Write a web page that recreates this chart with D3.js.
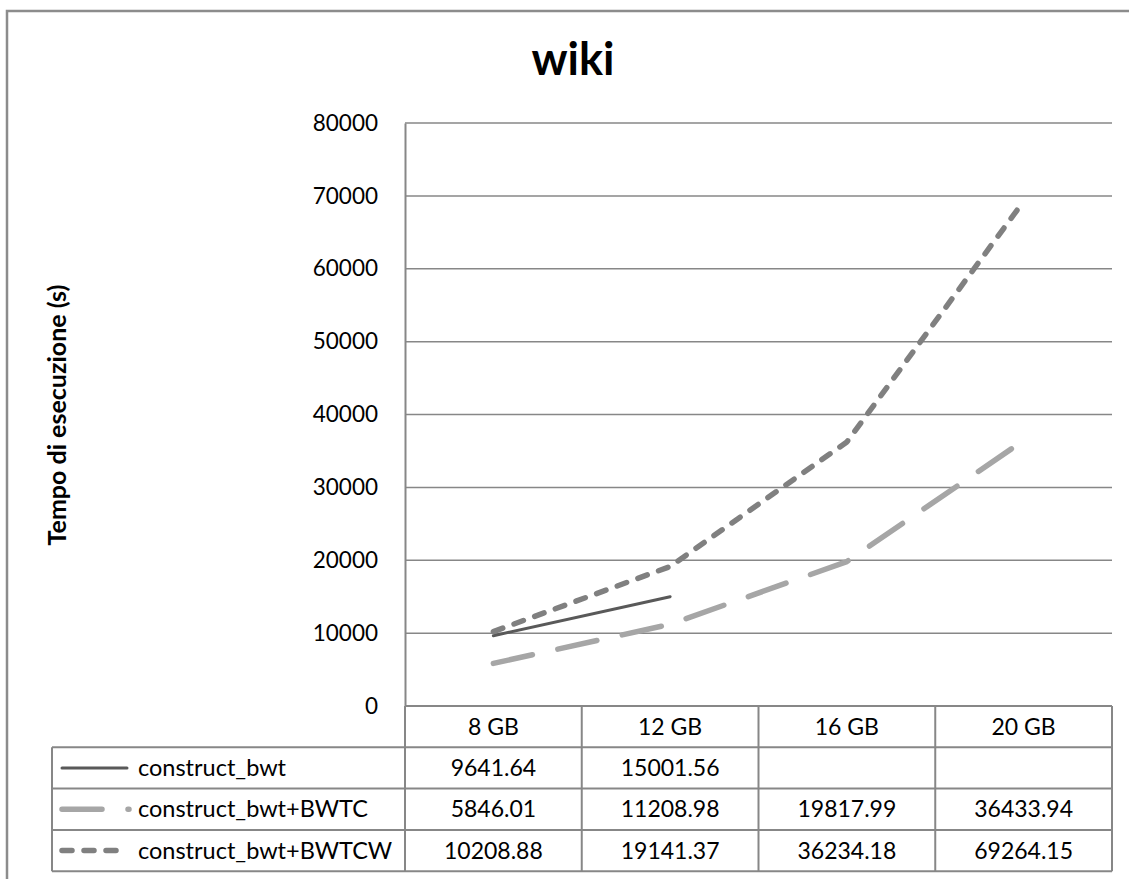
<!DOCTYPE html>
<html>
<head>
<meta charset="utf-8">
<script src="https://cdn.jsdelivr.net/npm/d3@7"></script>
<style>
  html, body { margin: 0; padding: 0; background: #fff; }
  svg { display: block; }
  text { font-family: Lato, "Open Sans", sans-serif; fill: #000; }
</style>
</head>
<body>
<svg id="chart" width="1129" height="879"></svg>
<script>
// Dataset sizes (x categories)
const categories = ["8 GB", "12 GB", "16 GB", "20 GB"];

// Execution times in seconds; null where no run was recorded
const seriesNames = ["construct_bwt", "construct_bwt+BWTC", "construct_bwt+BWTCW"];
const bwtValues   = [9641.64, 15001.56, null, null];
const bwtcValues  = [5846.01, 11208.98, 19817.99, 36433.94];
const bwtcwValues = [10208.88, 19141.37, 36234.18, 69264.15];

// Value axis ticks
const yTicks = [0, 10000, 20000, 30000, 40000, 50000, 60000, 70000, 80000];

const chartTitle = "wiki";
const yTitle = "Tempo di esecuzione (s)";

const series = [
  { name: seriesNames[0], values: bwtValues,   color: "#595959", width: 3,   dash: null,    keyEnd: 127 },
  { name: seriesNames[1], values: bwtcValues,  color: "#a6a6a6", width: 5.5, dash: "40,26", keyEnd: 129 },
  { name: seriesNames[2], values: bwtcwValues, color: "#808080", width: 5.5, dash: "10,12", keyEnd: 123 }
];

const svg = d3.select("#chart");
const gridColor = "#878787";
const bodyFont = "23px";

// Plot area and data-table geometry
const plot = { left: 405, right: 1112, top: 123, bottom: 706 };
const legendLeft = 52;
const rowH = 41.3;

const x = d3.scaleBand().domain(categories).range([plot.left, plot.right]).padding(0);
const y = d3.scaleLinear().domain([0, 80000]).range([plot.bottom, plot.top]);

// Outer chart frame
svg.append("rect")
  .attr("x", 7).attr("y", 11)
  .attr("width", 1140).attr("height", 900)
  .attr("fill", "none").attr("stroke", "#8c8c8c").attr("stroke-width", 2.5);

// Title
svg.append("text")
  .attr("x", 573).attr("y", 75)
  .attr("text-anchor", "middle")
  .style("font-size", "45px").style("font-weight", "bold")
  .text(chartTitle);

// Horizontal gridlines
svg.append("g").selectAll("line").data(yTicks.filter(d => d > 0)).join("line")
  .attr("x1", plot.left).attr("x2", plot.right)
  .attr("y1", d => y(d)).attr("y2", d => y(d))
  .attr("stroke", gridColor).attr("stroke-width", 1.5);

// Value axis
const yAxis = d3.axisLeft(y).tickValues(yTicks).tickSize(0).tickPadding(27).tickFormat(d3.format("d"));
const gy = svg.append("g").attr("transform", `translate(${plot.left},0)`).call(yAxis);
gy.select(".domain").attr("stroke", gridColor).attr("stroke-width", 2);
gy.selectAll("text").style("font-size", "22.5px").style("font-family", "Lato, sans-serif").attr("fill", "#000");

// Axis title
svg.append("text")
  .attr("transform", `translate(66,415) rotate(-90)`)
  .attr("text-anchor", "middle")
  .style("font-size", "25px").style("font-weight", "bold")
  .text(yTitle);

// Lines
const line = d3.line()
  .defined(d => d.v != null)
  .x(d => x(d.c) + x.bandwidth() / 2)
  .y(d => y(d.v));

svg.append("g").selectAll("path").data(series).join("path")
  .attr("d", s => line(categories.map((c, i) => ({ c, v: s.values[i] }))))
  .attr("fill", "none")
  .attr("stroke", s => s.color)
  .attr("stroke-width", s => s.width)
  .attr("stroke-dasharray", s => s.dash)
  .attr("stroke-linecap", "round")
  .attr("stroke-linejoin", "round");

// Data table
const table = svg.append("g");
const tableTop = plot.bottom;
const tableBottom = tableTop + rowH * (series.length + 1);

// header row frame + row separators
table.append("line")
  .attr("x1", plot.left).attr("x2", plot.right)
  .attr("y1", tableTop).attr("y2", tableTop)
  .attr("stroke", gridColor).attr("stroke-width", 2);
d3.range(1, series.length + 2).forEach(r => {
  table.append("line")
    .attr("x1", legendLeft).attr("x2", plot.right)
    .attr("y1", tableTop + r * rowH).attr("y2", tableTop + r * rowH)
    .attr("stroke", gridColor).attr("stroke-width", 2);
});
// vertical borders
const colEdges = [plot.left].concat(categories.map(c => x(c) + x.bandwidth()));
colEdges.forEach(cx => {
  table.append("line")
    .attr("x1", cx).attr("x2", cx)
    .attr("y1", tableTop).attr("y2", tableBottom)
    .attr("stroke", gridColor).attr("stroke-width", 2);
});
table.append("line")
  .attr("x1", legendLeft).attr("x2", legendLeft)
  .attr("y1", tableTop + rowH).attr("y2", tableBottom)
  .attr("stroke", gridColor).attr("stroke-width", 2);

// category header labels
table.selectAll("text.cat").data(categories).join("text")
  .attr("class", "cat")
  .attr("x", c => x(c) + x.bandwidth() / 2)
  .attr("y", tableTop + rowH / 2)
  .attr("dy", "0.35em")
  .attr("text-anchor", "middle")
  .style("font-size", bodyFont)
  .text(c => c);

// rows: legend key + values
const fmt = d3.format(".2f");
series.forEach((s, r) => {
  const cy = tableTop + (r + 1.5) * rowH;
  table.append("line")
    .attr("x1", 62).attr("x2", s.keyEnd)
    .attr("y1", cy).attr("y2", cy)
    .attr("stroke", s.color)
    .attr("stroke-width", s.width)
    .attr("stroke-dasharray", s.dash)
    .attr("stroke-linecap", "round");
  table.append("text")
    .attr("x", 138).attr("y", cy).attr("dy", "0.35em")
    .style("font-size", "23.5px")
    .text(s.name);
  s.values.forEach((v, i) => {
    if (v == null) return;
    table.append("text")
      .attr("x", x(categories[i]) + x.bandwidth() / 2)
      .attr("y", cy).attr("dy", "0.35em")
      .attr("text-anchor", "middle")
      .style("font-size", bodyFont)
      .text(fmt(v));
  });
});
</script>
</body>
</html>
